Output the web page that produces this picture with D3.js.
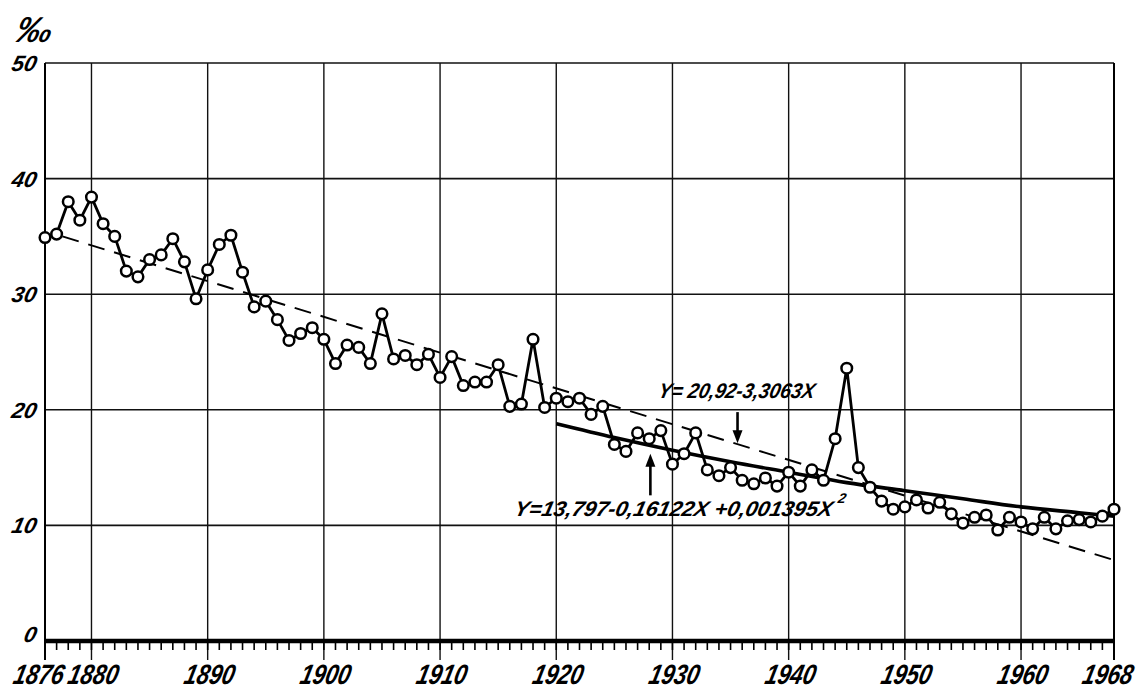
<!DOCTYPE html>
<html>
<head>
<meta charset="utf-8">
<script src="https://cdn.jsdelivr.net/npm/d3@7"></script>
<style>
  html, body { margin: 0; padding: 0; background: #fff; }
  svg { display: block; }
  .lab { font-family: "Liberation Sans", "DejaVu Sans", sans-serif; font-style: italic; font-weight: bold; fill: #000; }
</style>
</head>
<body>
<svg id="chart" width="1146" height="692"></svg>
<script>
// ---- data ----
const firstYear = 1876;
const lastYear = 1968;
// annual rate (per mille), 1876 .. 1968
const rates = [
  34.9, 35.2, 38.0, 36.4, 38.4, 36.1, 35.0, 32.0, 31.5, 33.0,   // 1876-1885
  33.4, 34.8, 32.8, 29.6, 32.1, 34.3, 35.1, 31.9, 28.9, 29.4,   // 1886-1895
  27.8, 26.0, 26.6, 27.1, 26.1, 24.0, 25.6, 25.4, 24.0, 28.3,   // 1896-1905
  24.4, 24.7, 23.9, 24.8, 22.8, 24.6, 22.1, 22.4, 22.4, 23.9,   // 1906-1915
  20.3, 20.5, 26.1, 20.2, 21.0, 20.7, 21.0, 19.6, 20.3, 17.0,   // 1916-1925
  16.4, 18.0, 17.5, 18.2, 15.3, 16.2, 18.0, 14.8, 14.3, 15.0,   // 1926-1935
  13.9, 13.6, 14.1, 13.4, 14.6, 13.4, 14.8, 13.9, 17.5, 23.6,   // 1936-1945
  15.0, 13.3, 12.1, 11.4, 11.6, 12.2, 11.5, 12.0, 11.0, 10.2,   // 1946-1955
  10.7, 10.9, 9.6, 10.7, 10.3, 9.7, 10.7, 9.7, 10.4, 10.5,      // 1956-1965
  10.3, 10.8, 11.4                                              // 1966-1968
];
// linear trend (dashed) end points
const linYears = [1877.5, 1968];
const linValues = [35.0, 7.0];
// quadratic trend (solid) read points
const quadYears = [1920, 1925, 1930, 1935, 1940, 1945, 1950, 1955, 1960, 1965, 1968];
const quadValues = [18.8, 17.6, 16.5, 15.5, 14.6, 13.7, 13.0, 12.3, 11.6, 11.1, 10.8];
// tick labels
const xTickLabels = [1876, 1880, 1890, 1900, 1910, 1920, 1930, 1940, 1950, 1960, 1968];
const xGridYears = [1880, 1890, 1900, 1910, 1920, 1930, 1940, 1950, 1960];
const yTickLabels = [0, 10, 20, 30, 40, 50];
const unitLabel = "‰";
const eqLinear = "Y= 20,92-3,3063X";
const eqQuad = "Y=13,797-0,16122X +0,001395X";
const eqQuadSup = "2";

// ---- scales ----
const svg = d3.select("#chart");
const x = d3.scaleLinear().domain([firstYear, lastYear]).range([45, 1114]);
const y = d3.scaleLinear().domain([0, 50]).range([641, 63]);
const yearsAll = d3.range(firstYear, lastYear + 1);
const series = rates.map((v, i) => ({ year: firstYear + i, value: v }));
const SKEW = -13;

const g = svg.append("g");

// horizontal grid (10..50)
g.selectAll("line.hg").data(yTickLabels.filter(d => d > 0)).enter().append("line")
  .attr("x1", x(firstYear)).attr("x2", x(lastYear))
  .attr("y1", d => y(d)).attr("y2", d => y(d))
  .attr("stroke", "#111").attr("stroke-width", 1.6);

// vertical grid lines (decades), extending below axis
g.selectAll("line.vg").data(xGridYears).enter().append("line")
  .attr("x1", d => x(d)).attr("x2", d => x(d))
  .attr("y1", y(50)).attr("y2", y(0) + 19)
  .attr("stroke", "#111").attr("stroke-width", 1.4);

// frame left / right
g.selectAll("line.fr").data([firstYear, lastYear]).enter().append("line")
  .attr("x1", d => x(d)).attr("x2", d => x(d))
  .attr("y1", y(50)).attr("y2", y(0) + 19)
  .attr("stroke", "#000").attr("stroke-width", 2);

// yearly minor ticks
g.selectAll("line.mt").data(yearsAll).enter().append("line")
  .attr("x1", d => x(d)).attr("x2", d => x(d))
  .attr("y1", y(0)).attr("y2", y(0) + 9)
  .attr("stroke", "#000").attr("stroke-width", 1.6);

// x axis baseline (thick)
g.append("line")
  .attr("x1", x(firstYear)).attr("x2", x(lastYear))
  .attr("y1", y(0)).attr("y2", y(0))
  .attr("stroke", "#000").attr("stroke-width", 4.5);

// x tick labels
g.selectAll("text.xl").data(xTickLabels).enter().append("text")
  .attr("class", "lab")
  .attr("transform", d => `translate(${x(d) - (d === firstYear ? 8 : (d === lastYear ? 8 : 0))},684) skewX(${SKEW})`)
  .attr("text-anchor", "middle")
  .attr("font-size", 28)
  .attr("font-weight", "normal")
  .attr("textLength", 50).attr("lengthAdjust", "spacingAndGlyphs")
  .text(d => d);

// y tick labels
g.selectAll("text.yl").data(yTickLabels).enter().append("text")
  .attr("class", "lab")
  .attr("transform", d => `translate(35,${y(d) + (d === 0 ? 1 : 8)}) skewX(${SKEW})`)
  .attr("text-anchor", "end")
  .attr("font-size", 22)
  .text(d => d);

// unit label
g.append("text").attr("class", "lab")
  .attr("transform", `translate(14,42) skewX(${SKEW})`)
  .attr("font-size", 36)
  .attr("font-weight", "normal")
  .text(unitLabel);

// dashed linear trend
const lin = linYears.map((yr, i) => ({ year: yr, value: linValues[i] }));
g.append("path").datum(lin)
  .attr("d", d3.line().x(d => x(d.year)).y(d => y(d.value)))
  .attr("fill", "none").attr("stroke", "#000").attr("stroke-width", 2)
  .attr("stroke-dasharray", "17,10");

// quadratic trend
const quad = quadYears.map((yr, i) => ({ year: yr, value: quadValues[i] }));
g.append("path").datum(quad)
  .attr("d", d3.line().curve(d3.curveMonotoneX).x(d => x(d.year)).y(d => y(d.value)))
  .attr("fill", "none").attr("stroke", "#000").attr("stroke-width", 3.6);

// data line
g.append("path").datum(series)
  .attr("d", d3.line().x(d => x(d.year)).y(d => y(d.value)))
  .attr("fill", "none").attr("stroke", "#000").attr("stroke-width", 2.8)
  .attr("stroke-linejoin", "round");

// markers
g.selectAll("circle.pt").data(series).enter().append("circle")
  .attr("cx", d => x(d.year)).attr("cy", d => y(d.value))
  .attr("r", 5.3)
  .attr("fill", "#fff").attr("stroke", "#000").attr("stroke-width", 2.5);

// annotations
function arrow(year, vFrom, vTo) {
  const xa = x(year), y1 = y(vFrom), y2 = y(vTo);
  const dir = y2 > y1 ? 1 : -1;
  g.append("line").attr("x1", xa).attr("x2", xa)
    .attr("y1", y1).attr("y2", y2 - dir * 10)
    .attr("stroke", "#000").attr("stroke-width", 2.6);
  g.append("path")
    .attr("d", `M${xa - 5},${y2 - dir * 13} L${xa + 5},${y2 - dir * 13} L${xa},${y2} Z`)
    .attr("fill", "#000");
}
g.append("text").attr("class", "lab")
  .attr("transform", `translate(${x(1928.7)},${y(20.98)}) skewX(${SKEW})`)
  .attr("font-size", 21)
  .attr("textLength", 156).attr("lengthAdjust", "spacingAndGlyphs")
  .text(eqLinear);
arrow(1935.6, 19.8, 17.1);

g.append("text").attr("class", "lab")
  .attr("transform", `translate(${x(1916.3)},${y(10.85)}) skewX(${SKEW})`)
  .attr("font-size", 21)
  .attr("textLength", 318).attr("lengthAdjust", "spacingAndGlyphs")
  .text(eqQuad);
g.append("text").attr("class", "lab")
  .attr("transform", `translate(${x(1916.3) + 324},${y(11.95)}) skewX(${SKEW})`)
  .attr("font-size", 14)
  .text(eqQuadSup);
arrow(1928.1, 12.6, 16.2);
</script>
</body>
</html>
